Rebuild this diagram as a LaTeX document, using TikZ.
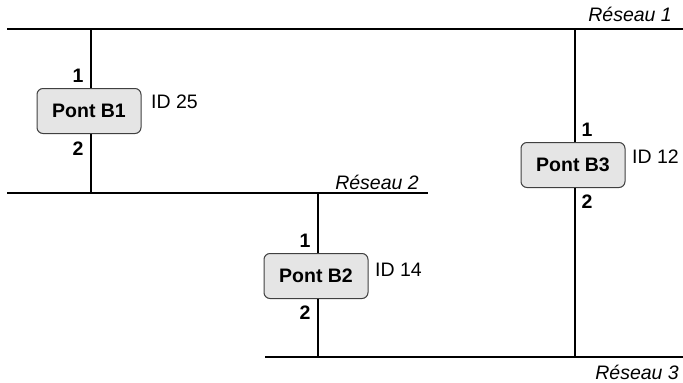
\documentclass[tikz,border=0pt]{standalone}
\usepackage{fontspec}
\setmainfont{Liberation Sans}
\usetikzlibrary{positioning}
\tikzset{
  pont/.style = {draw=black!75, fill=black!10, line width=1pt, rectangle, rounded corners=6pt, minimum width=104pt, minimum height=45pt, font=\fontsize{19.5}{23}\selectfont\bfseries},
  port/.style = {font=\fontsize{19.5}{23}\selectfont\bfseries, inner sep=0pt},
  ident/.style = {font=\fontsize{19.5}{23}\selectfont, inner sep=0pt},
  nom/.style = {font=\fontsize{19.5}{23}\selectfont\itshape, inner sep=0pt},
  reseau/.style = {line width=1.8pt},
  lien/.style = {line width=1.8pt}
}
\begin{document}
\begin{tikzpicture}[x=1pt, y=-1pt]
  \useasboundingbox (0,0) rectangle (683,383);
  % reseaux
  \coordinate (r1w) at (7,29);   \coordinate (r1e) at (683,29);
  \coordinate (r2w) at (7,193);  \coordinate (r2e) at (428,193);
  \coordinate (r3w) at (265,357); \coordinate (r3e) at (683,357);
  \draw[reseau] (r1w) -- (r1e);
  \draw[reseau] (r2w) -- (r2e);
  \draw[reseau] (r3w) -- (r3e);
  \node[nom, anchor=east] (n1) at (672,14) {Réseau 1};
  \node[nom, anchor=east] (n2) at (419,182) {Réseau 2};
  \node[nom, anchor=east] (n3) at (679,372) {Réseau 3};
  % ponts
  \node[pont] (b1) at (89,111) {Pont B1};
  \node[pont] (b2) at (316,276) {Pont B2};
  \node[pont] (b3) at (573,165) {Pont B3};
  \coordinate (c1) at (91,0);
  \coordinate (c2) at (318,0);
  \coordinate (c3) at (575,0);
  \draw[lien] (c1 |- b1.north) -- (c1 |- r1w);
  \draw[lien] (c1 |- b1.south) -- (c1 |- r2w);
  \draw[lien] (c2 |- b2.north) -- (c2 |- r2w);
  \draw[lien] (c2 |- b2.south) -- (c2 |- r3w);
  \draw[lien] (c3 |- b3.north) -- (c3 |- r1w);
  \draw[lien] (c3 |- b3.south) -- (c3 |- r3w);
  % numeros de port
  \node[port] (p11) at (78,76) {1};
  \node[port] (p12) at (78,149) {2};
  \node[port] (p21) at (305,241) {1};
  \node[port] (p22) at (305,313) {2};
  \node[port] (p31) at (587,130) {1};
  \node[port] (p32) at (587,202) {2};
  % identifiants
  \node[ident, anchor=west] (id1) at (151,102) {ID 25};
  \node[ident, anchor=west] (id2) at (375,270) {ID 14};
  \node[ident, anchor=west] (id3) at (632,157) {ID 12};
\end{tikzpicture}
\end{document}
